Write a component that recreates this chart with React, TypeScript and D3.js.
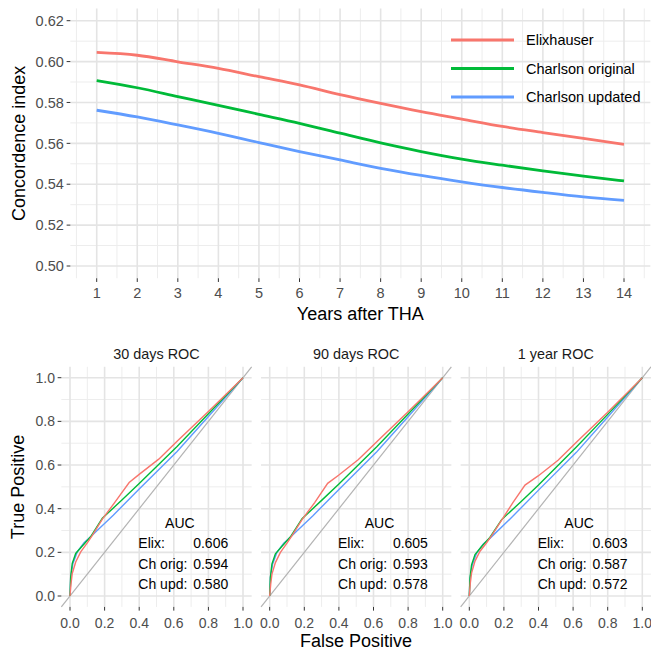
import React from "react";
import * as d3 from "d3";

// top chart: concordance over years
const years = [1, 2, 3, 4, 5, 6, 7, 8, 9, 10, 11, 12, 13, 14];
const elixhauser = [0.6045, 0.6031, 0.5999, 0.5967, 0.5926, 0.5886, 0.5838, 0.5795, 0.5755, 0.5719, 0.5683, 0.5653, 0.5624, 0.5595];
const charlsonOrig = [0.5907, 0.5872, 0.5829, 0.5786, 0.5742, 0.5698, 0.5650, 0.5602, 0.5560, 0.5523, 0.5493, 0.5465, 0.5440, 0.5416];
const charlsonUpd = [0.5762, 0.5729, 0.5690, 0.5649, 0.5604, 0.5560, 0.5519, 0.5478, 0.5443, 0.5412, 0.5384, 0.5360, 0.5338, 0.5321];
const seriesNames = ["Elixhauser", "Charlson original", "Charlson updated"];
const colors = ["#F8766D", "#00BA38", "#619CFF"];
const yTicks = [0.5, 0.52, 0.54, 0.56, 0.58, 0.6, 0.62];

// bottom: ROC curves [fpr, tpr]
const panelTitles = ["30 days ROC", "90 days ROC", "1 year ROC"];
const rocElix = [
  [[0, 0], [0.006, 0.057], [0.013, 0.103], [0.033, 0.156], [0.062, 0.202], [0.1, 0.243], [0.129, 0.278], [0.187, 0.352], [0.26, 0.43], [0.342, 0.52], [0.398, 0.556], [0.513, 0.627], [0.619, 0.709], [0.8, 0.845], [1, 1]],
  [[0, 0], [0.006, 0.055], [0.013, 0.1], [0.033, 0.153], [0.062, 0.2], [0.1, 0.242], [0.129, 0.277], [0.187, 0.35], [0.26, 0.428], [0.335, 0.516], [0.398, 0.553], [0.513, 0.625], [0.619, 0.707], [0.8, 0.844], [1, 1]],
  [[0, 0], [0.006, 0.06], [0.013, 0.105], [0.033, 0.16], [0.062, 0.205], [0.1, 0.244], [0.129, 0.277], [0.187, 0.348], [0.25, 0.425], [0.322, 0.508], [0.398, 0.55], [0.513, 0.622], [0.619, 0.704], [0.8, 0.842], [1, 1]],
];
const rocOrig = [
  [[0, 0], [0.004, 0.087], [0.013, 0.149], [0.033, 0.195], [0.071, 0.229], [0.119, 0.271], [0.187, 0.356], [0.3, 0.44], [0.4, 0.515], [0.619, 0.685], [0.8, 0.835], [1, 1]],
  [[0, 0], [0.004, 0.085], [0.013, 0.147], [0.033, 0.193], [0.071, 0.228], [0.119, 0.27], [0.187, 0.354], [0.3, 0.438], [0.4, 0.513], [0.619, 0.684], [0.8, 0.834], [1, 1]],
  [[0, 0], [0.004, 0.082], [0.013, 0.142], [0.033, 0.19], [0.071, 0.227], [0.119, 0.268], [0.187, 0.35], [0.3, 0.433], [0.4, 0.508], [0.619, 0.682], [0.8, 0.832], [1, 1]],
];
const rocUpd = [
  [[0, 0], [0.004, 0.087], [0.017, 0.149], [0.042, 0.202], [0.081, 0.244], [0.119, 0.271], [0.25, 0.37], [0.4, 0.49], [0.619, 0.662], [0.8, 0.822], [1, 1]],
  [[0, 0], [0.004, 0.085], [0.017, 0.147], [0.042, 0.2], [0.081, 0.242], [0.119, 0.269], [0.25, 0.368], [0.4, 0.488], [0.619, 0.661], [0.8, 0.821], [1, 1]],
  [[0, 0], [0.004, 0.08], [0.017, 0.142], [0.042, 0.196], [0.081, 0.238], [0.119, 0.264], [0.25, 0.364], [0.4, 0.485], [0.619, 0.658], [0.8, 0.82], [1, 1]],
];
const aucLabels = ["Elix:", "Ch orig:", "Ch upd:"];
const aucValues = [
  ["0.606", "0.594", "0.580"],
  ["0.605", "0.593", "0.578"],
  ["0.603", "0.587", "0.572"],
];
const rocTicks = [0, 0.2, 0.4, 0.6, 0.8, 1];

const FONT = "'Liberation Sans', Arial, Helvetica, sans-serif";
const GRID = "#E4E4E4";
const GRID_MINOR = "#EDEDED";
const TICK_COL = "#4D4D4D";

export default function App() {
  // ---- top chart
  const x = d3.scaleLinear().domain([1, 14]).range([96.7, 624]);
  const y = d3.scaleLinear().domain([0.5, 0.62]).range([266, 20.7]);
  const xl = x(0.35), xr = x(14.65);
  const yt = y(0.626), yb = y(0.494);
  const line = d3.line<number>().x((_, i) => x(years[i])).y((d) => y(d)).curve(d3.curveMonotoneX);
  const topSeries = [elixhauser, charlsonOrig, charlsonUpd];
  const xMinor = d3.range(0.5, 15, 1).filter((v) => v > 0.35 && v < 14.65);
  const yMinor = d3.range(0.51, 0.62, 0.02);

  // ---- bottom
  const panelX0 = [70, 269.7, 469.3];
  const pw = 173;
  const ry = d3.scaleLinear().domain([0, 1]).range([596, 377.7]);
  const rocMinor = [0.1, 0.3, 0.5, 0.7, 0.9];
  const rocAll = [rocElix, rocOrig, rocUpd];

  return (
    <svg width={651} height={649} style={{ position: "absolute", left: 0, top: 0, background: "#fff" }} fontFamily={FONT}>
      {/* top panel grid */}
      {xMinor.map((v) => (
        <line key={"xm" + v} x1={x(v)} x2={x(v)} y1={yt} y2={yb} stroke={GRID_MINOR} strokeWidth={1} />
      ))}
      {yMinor.map((v) => (
        <line key={"ym" + v} x1={xl} x2={xr} y1={y(v)} y2={y(v)} stroke={GRID_MINOR} strokeWidth={1} />
      ))}
      {years.map((v) => (
        <line key={"xg" + v} x1={x(v)} x2={x(v)} y1={yt} y2={yb} stroke={GRID} strokeWidth={1.6} />
      ))}
      {yTicks.map((v) => (
        <line key={"yg" + v} x1={xl} x2={xr} y1={y(v)} y2={y(v)} stroke={GRID} strokeWidth={1.6} />
      ))}
      {topSeries.map((s, i) => (
        <path key={"ts" + i} d={line(s) || ""} fill="none" stroke={colors[i]} strokeWidth={2.8} />
      ))}
      {/* top axes */}
      {yTicks.map((v) => (
        <g key={"yt" + v}>
          <line x1={xl - 3.7} x2={xl} y1={y(v)} y2={y(v)} stroke="#333" strokeWidth={1} />
          <text x={xl - 6.5} y={y(v)} dy="0.36em" textAnchor="end" fontSize={14.5} fill={TICK_COL}>
            {d3.format(".2f")(v)}
          </text>
        </g>
      ))}
      {years.map((v) => (
        <g key={"xt" + v}>
          <line x1={x(v)} x2={x(v)} y1={yb} y2={yb + 3.7} stroke="#333" strokeWidth={1} />
          <text x={x(v)} y={298.3} textAnchor="middle" fontSize={14.5} fill={TICK_COL}>
            {v}
          </text>
        </g>
      ))}
      <text x={(xl + xr) / 2} y={319.5} textAnchor="middle" fontSize={18} fill="#000">
        Years after THA
      </text>
      <text transform={`translate(25,${(yt + yb) / 2}) rotate(-90)`} textAnchor="middle" fontSize={18} fill="#000">
        Concordence index
      </text>
      {/* legend */}
      {seriesNames.map((n, i) => (
        <g key={"lg" + i} transform={`translate(0,${40 + i * 28.5})`}>
          <line x1={451} x2={514} y1={0} y2={0} stroke={colors[i]} strokeWidth={2.8} />
          <text x={526} y={0} dy="0.36em" fontSize={14.5} fill="#000">
            {n}
          </text>
        </g>
      ))}

      {/* bottom panels */}
      {panelX0.map((x0, p) => {
        const rx = d3.scaleLinear().domain([0, 1]).range([x0, x0 + pw]);
        const l = rx(-0.05), r = rx(1.05), t = ry(1.05), b = ry(-0.05);
        const rocLine = d3.line<number[]>().x((d) => rx(d[0])).y((d) => ry(d[1]));
        return (
          <g key={"p" + p}>
            {rocMinor.map((v) => (
              <g key={"m" + v}>
                <line x1={rx(v)} x2={rx(v)} y1={t} y2={b} stroke={GRID_MINOR} strokeWidth={1} />
                <line x1={l} x2={r} y1={ry(v)} y2={ry(v)} stroke={GRID_MINOR} strokeWidth={1} />
              </g>
            ))}
            {rocTicks.map((v) => (
              <g key={"g" + v}>
                <line x1={rx(v)} x2={rx(v)} y1={t} y2={b} stroke={GRID} strokeWidth={1.6} />
                <line x1={l} x2={r} y1={ry(v)} y2={ry(v)} stroke={GRID} strokeWidth={1.6} />
              </g>
            ))}
            <line x1={rx(-0.05)} y1={ry(-0.05)} x2={rx(1.05)} y2={ry(1.05)} stroke="#B3B3B3" strokeWidth={1.2} />
            {[2, 1, 0].map((s) => (
              <path key={"r" + s} d={rocLine(rocAll[s][p]) || ""} fill="none" stroke={colors[s]} strokeWidth={1.4} />
            ))}
            <text x={(l + r) / 2} y={359} textAnchor="middle" fontSize={14.4} fill="#1A1A1A">
              {panelTitles[p]}
            </text>
            {/* AUC box */}
            <text x={rx(0.635)} y={ry(0.333)} dy="0.36em" textAnchor="middle" fontSize={14} fill="#000">
              AUC
            </text>
            {aucLabels.map((lab, i) => {
              const yy = ry([0.241, 0.149, 0.055][i]);
              return (
                <g key={"a" + i}>
                  <text x={rx(0.395)} y={yy} dy="0.36em" fontSize={14} fill="#000">
                    {lab}
                  </text>
                  <text x={rx(0.712)} y={yy} dy="0.36em" fontSize={14} fill="#000">
                    {aucValues[p][i]}
                  </text>
                </g>
              );
            })}
            {rocTicks.map((v) => (
              <g key={"xt" + v}>
                <line x1={rx(v)} x2={rx(v)} y1={b} y2={b + 3.7} stroke="#333" strokeWidth={1} />
                <text x={rx(v)} y={627.5} textAnchor="middle" fontSize={14} fill={TICK_COL}>
                  {d3.format(".1f")(v)}
                </text>
              </g>
            ))}
            {p === 0 &&
              rocTicks.map((v) => (
                <g key={"yt" + v}>
                  <line x1={l - 3.7} x2={l} y1={ry(v)} y2={ry(v)} stroke="#333" strokeWidth={1} />
                  <text x={l - 6.3} y={ry(v)} dy="0.36em" textAnchor="end" fontSize={14} fill={TICK_COL}>
                    {d3.format(".1f")(v)}
                  </text>
                </g>
              ))}
          </g>
        );
      })}
      <text x={356} y={646.5} textAnchor="middle" fontSize={18} fill="#000">
        False Positive
      </text>
      <text transform={`translate(24,487) rotate(-90)`} textAnchor="middle" fontSize={18} fill="#000">
        True Positive
      </text>
    </svg>
  );
}
